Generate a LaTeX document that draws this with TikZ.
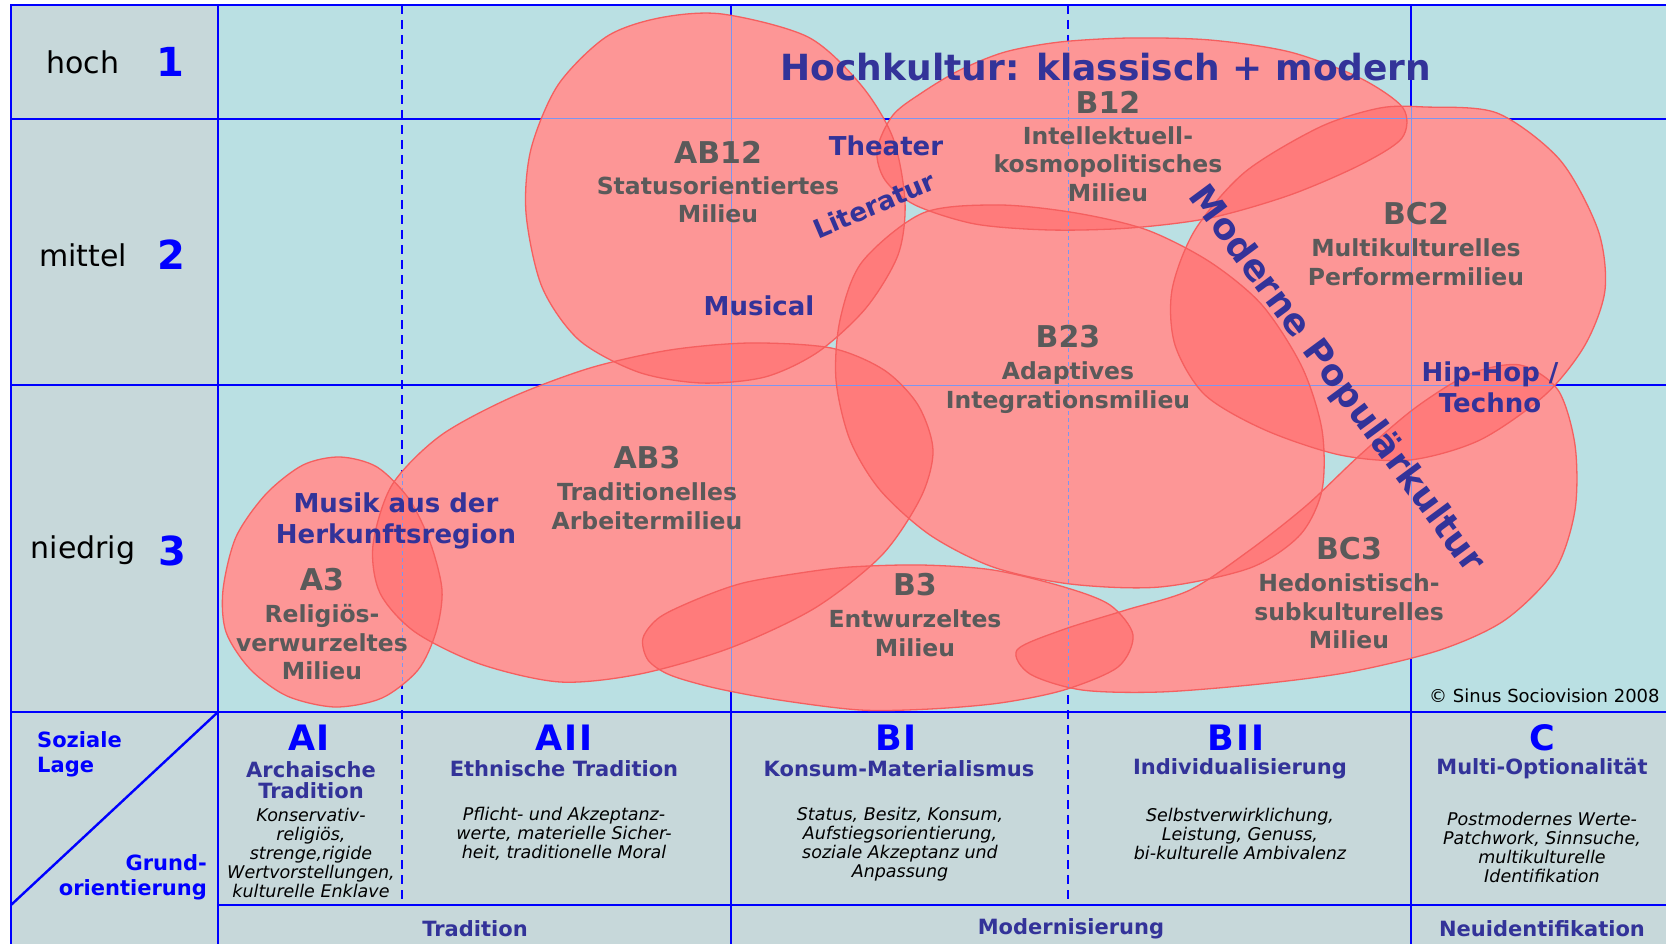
\documentclass[tikz,border=0pt]{standalone}
\usepackage{fontspec}
\setmainfont{DejaVu Sans}
\usetikzlibrary{positioning}

\definecolor{upperbg}{RGB}{186,224,227}
\definecolor{tablegray}{RGB}{199,216,218}
\definecolor{gridblue}{RGB}{0,0,255}
\definecolor{thinblue}{RGB}{125,150,240}
\definecolor{milfill}{RGB}{253,150,150}
\definecolor{miloverlap}{RGB}{255,123,123}
\definecolor{miledge}{RGB}{245,95,95}
\definecolor{milgray}{RGB}{90,90,90}
\definecolor{navy}{RGB}{51,51,153}

% milieu outlines
\newcommand\pathAiii{plot[smooth cycle] coordinates {(340,457) (377,467) (409,499) (430,542) (442,590) (436,632) (418,670) (382,698) (335,707) (287,696) (250,669) (226,632) (223,590) (236,537) (266,494) (303,465)}}
\newcommand\pathABiii{plot[smooth cycle] coordinates {(373,545) (392,485) (440,436) (510,398) (590,368) (670,350) (750,343) (831,348) (884,370) (918,405) (933,450) (921,497) (882,555) (815,608) (730,648) (640,674) (560,682) (480,664) (415,632) (380,593)}}
\newcommand\pathABxii{plot[smooth cycle] coordinates {(722,14) (808,37) (861,85) (893,138) (905,202) (898,255) (866,308) (818,352) (765,377) (701,383) (638,372) (579,340) (542,287) (526,213) (531,149) (558,85) (606,37) (659,18)}}
\newcommand\pathBxii{plot[smooth cycle] coordinates {(877,150) (893,115) (923,92) (960,70) (1005,52) (1060,42) (1130,38) (1210,40) (1290,52) (1360,78) (1403,108) (1402,138) (1360,165) (1290,195) (1210,218) (1130,228) (1050,230) (975,224) (915,205) (885,180)}}
\newcommand\pathBxxiii{plot[smooth cycle] coordinates {(923,213) (999,205) (1076,213) (1147,230) (1210,262) (1262,305) (1302,367) (1322,430) (1322,490) (1300,535) (1250,568) (1160,587) (1070,584) (993,567) (930,535) (880,490) (850,440) (836,380) (840,320) (862,262)}}
\newcommand\pathBiii{plot[smooth cycle] coordinates {(660,617) (700,598) (743,583) (800,573) (850,567) (921,565) (993,570) (1064,587) (1110,605) (1133,635) (1118,667) (1064,690) (1000,703) (930,709) (860,710) (779,700) (715,688) (670,675) (648,660) (643,638)}}
\newcommand\pathBCii{plot[smooth cycle] coordinates {(1425,107) (1497,113) (1560,160) (1598,230) (1605,290) (1585,345) (1545,395) (1480,440) (1410,460) (1340,455) (1265,430) (1205,395) (1175,345) (1172,290) (1195,230) (1245,172) (1320,127) (1380,108)}}
\newcommand\pathBCiii{plot[smooth cycle] coordinates {(1017,650) (1062,630) (1126,610) (1190,590) (1250,550) (1307,505) (1360,455) (1415,408) (1470,374) (1520,365) (1558,390) (1575,445) (1575,510) (1555,570) (1505,620) (1440,650) (1350,672) (1260,684) (1160,692) (1082,690) (1030,674)}}

\begin{document}
\begin{tikzpicture}[x=1pt, y=-1pt, inner sep=0pt,
  gridline/.style={gridblue, line width=2.4pt},
  griddash/.style={gridline, dash pattern=on 9pt off 6pt},
  thinline/.style={thinblue, line width=1pt},
  milcode/.style={font=\fontsize{30}{32}\selectfont\bfseries, text=milgray},
  mildesc/.style={font=\fontsize{23.5}{28.5}\selectfont\bfseries, text=milgray, align=center},
  culture/.style={font=\fontsize{26}{31}\selectfont\bfseries, text=navy, align=center},
  bigculture/.style={font=\fontsize{36}{40}\selectfont\bfseries, text=navy},
  level/.style={font=\fontsize{30}{32}\selectfont},
  levelno/.style={font=\fontsize{40}{42}\selectfont\bfseries, text=gridblue},
  orient/.style={font=\fontsize{35}{37}\selectfont\bfseries, text=gridblue},
  orienthead/.style={font=\fontsize{21}{21}\selectfont\bfseries, text=navy, align=center},
  orientdesc/.style={font=\fontsize{17.5}{19}\selectfont\itshape, align=center},
  axislabel/.style={font=\fontsize{21}{25}\selectfont\bfseries, text=gridblue}]

\useasboundingbox (0,0) rectangle (1666,944);

% backgrounds
\fill[tablegray] (11,5) rectangle (218,712);
\fill[upperbg] (218,5) rectangle (1666,712);
\fill[tablegray] (11,712) rectangle (1666,944);

% grid
\draw[gridline] (11,944) -- (11,5) -- (1666,5);
\foreach \y in {119,385,712} \draw[gridline] (11,\y) -- (1666,\y);
\draw[gridline] (218,905) -- (1666,905);
\foreach \x in {218,731,1411} \draw[gridline] (\x,5) -- (\x,944);
\foreach \x in {402,1068} \draw[griddash] (\x,5) -- (\x,905);
\draw[gridline] (218,712) -- (11,905);

% milieus
\foreach \p in {\pathAiii,\pathABiii,\pathABxii,\pathBxii,\pathBxxiii,\pathBiii,\pathBCii,\pathBCiii}
  \fill[milfill] \p;
\foreach \p/\q in {\pathABxii/\pathBxii, \pathABxii/\pathBxxiii, \pathABxii/\pathABiii,
  \pathBxii/\pathBxxiii, \pathBxii/\pathBCii, \pathBxxiii/\pathBCii, \pathBxxiii/\pathABiii,
  \pathBxxiii/\pathBCiii, \pathBxxiii/\pathBiii, \pathBCii/\pathBCiii, \pathABiii/\pathAiii,
  \pathABiii/\pathBiii, \pathBiii/\pathBCiii}
  {\begin{scope} \clip \p; \fill[miloverlap] \q; \end{scope}}
\begin{scope}
  \clip \pathAiii \pathABiii \pathABxii \pathBxii \pathBxxiii \pathBiii \pathBCii \pathBCiii;
  \foreach \y in {119,385} \draw[thinline] (218,\y) -- (1666,\y);
  \foreach \x in {731,1411} \draw[thinline] (\x,5) -- (\x,712);
  \foreach \x in {402,1068} \draw[thinline, dash pattern=on 4pt off 3pt] (\x,5) -- (\x,712);
\end{scope}
\foreach \p in {\pathAiii,\pathABiii,\pathABxii,\pathBxii,\pathBxxiii,\pathBiii,\pathBCii,\pathBCiii}
  \draw[miledge, line width=1.3pt] \p;

% social levels
\node[level] (hoch) at (83,62) {hoch};
\node[levelno] (no1) at (170,62) {1};
\node[level] (mittel) at (83,255) {mittel};
\node[levelno] (no2) at (171,255) {2};
\node[level] (niedrig) at (83,550) {niedrig};
\node[levelno] (no3) at (172,551) {3};

% milieu labels
\node[milcode] (ab12) at (718,152) {AB12};
\node[mildesc, below=13pt of ab12] (ab12d) {Statusorientiertes\\Milieu};
\node[milcode] (b12) at (1108,102) {B12};
\node[mildesc, below=13pt of b12] (b12d) {Intellektuell-\\kosmopolitisches\\Milieu};
\node[milcode] (b23) at (1068,337) {B23};
\node[mildesc, below=13pt of b23] (b23d) {Adaptives\\Integrationsmilieu};
\node[milcode] (bc2) at (1416,214) {BC2};
\node[mildesc, below=13pt of bc2] (bc2d) {Multikulturelles\\Performermilieu};
\node[milcode] (ab3) at (647,458) {AB3};
\node[mildesc, below=13pt of ab3] (ab3d) {Traditionelles\\Arbeitermilieu};
\node[milcode] (a3) at (322,580) {A3};
\node[mildesc, below=13pt of a3] (a3d) {Religiös-\\verwurzeltes\\Milieu};
\node[milcode] (b3) at (915,585) {B3};
\node[mildesc, below=13pt of b3] (b3d) {Entwurzeltes\\Milieu};
\node[milcode] (bc3) at (1349,549) {BC3};
\node[mildesc, below=13pt of bc3] (bc3d) {Hedonistisch-\\subkulturelles\\Milieu};

% culture labels
\node[bigculture] (hochkultur) at (1106,67) {Hochkultur: klassisch + modern};
\node[bigculture, rotate=-53.5] (popkultur) at (1336,380) {Moderne Populärkultur};
\node[culture] (theater) at (886,146) {Theater};
\node[culture, rotate=23] (literatur) at (874,205) {Literatur};
\node[culture] (musical) at (759,306) {Musical};
\node[culture] (herkunft) at (396,521) {Musik aus der\\Herkunftsregion};
\node[culture] (hiphop) at (1490,387) {Hip-Hop /\\Techno};
\node[anchor=west, font=\fontsize{18}{18}\selectfont] (copyright) at (1429,696) {© Sinus Sociovision 2008};

% basic orientations
\node[axislabel, anchor=west, align=left] (lage) at (37,754) {Soziale\\Lage};
\node[axislabel, anchor=east, align=right] (grund) at (207,877) {Grund-\\orientierung};
\node[orient] (ai) at (309,738) {AI};
\node[orient] (aii) at (564,738) {A\kern2pt I\kern2pt I};
\node[orient] (bi) at (896,738) {B\kern2pt I};
\node[orient] (bii) at (1236,738) {B\kern2pt I\kern2pt I};
\node[orient] (c) at (1542,738) {C};
\node[orienthead] (aih) at (311,780) {Archaische\\Tradition};
\node[orienthead] (aiih) at (564,769) {Ethnische Tradition};
\node[orienthead] (bih) at (899,769) {Konsum-Materialismus};
\node[orienthead] (biih) at (1240,769) {Individualisierung};
\node[orienthead] (ch) at (1542,769) {Multi-Optionalität};
\node[orientdesc] (aid) at (311,853) {Konservativ-\\religiös,\\strenge,rigide\\Wertvorstellungen,\\kulturelle Enklave};
\node[orientdesc] (aiid) at (564,834) {Pflicht- und Akzeptanz-\\werte, materielle Sicher-\\heit, traditionelle Moral};
\node[orientdesc] (bid) at (900,844) {Status, Besitz, Konsum,\\Aufstiegsorientierung,\\soziale Akzeptanz und\\Anpassung};
\node[orientdesc] (biid) at (1240,834) {Selbstverwirklichung,\\Leistung, Genuss,\\bi-kulturelle Ambivalenz};
\node[orientdesc] (cd) at (1542,847) {Postmodernes Werte-\\Patchwork, Sinnsuche,\\multikulturelle\\Identifikation};
\node[orienthead] (tradition) at (475,929) {Tradition};
\node[orienthead] (modern) at (1071,929) {Modernisierung};
\node[orienthead] (neuid) at (1542,929) {Neuidentifikation};
\end{tikzpicture}
\end{document}
